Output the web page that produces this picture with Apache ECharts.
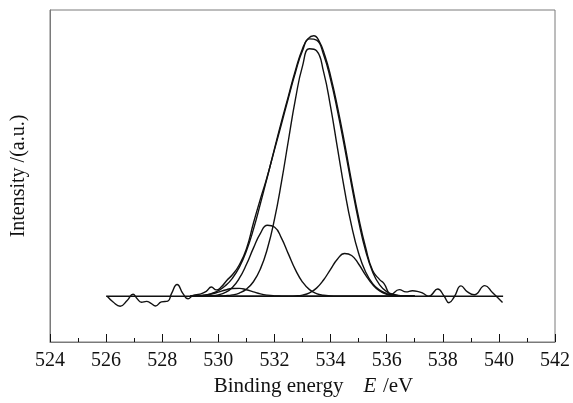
<!DOCTYPE html>
<html>
<head>
<meta charset="utf-8">
<script src="https://cdn.jsdelivr.net/npm/echarts@6/dist/echarts.min.js"></script>
<style>
  html, body { margin: 0; padding: 0; background: #fff; }
  #chart { width: 573px; height: 403px; }
</style>
</head>
<body>
<div id="chart"></div>
<script>
// O 1s region: measured spectrum, flat background and fitted peaks
const xTicks = [524, 526, 528, 530, 532, 534, 536, 538, 540, 542];

// measured spectrum (binding energy, intensity)
const rawE = [526.04, 526.25, 526.5, 526.75, 526.96, 527.1, 527.26, 527.44, 527.6, 527.76,
  527.97, 528.2, 528.33, 528.53, 528.74, 528.92, 529.1, 529.34, 529.57, 529.75,
  529.93, 530.1, 530.3, 530.5, 530.75, 531.0, 531.25, 531.5, 531.75, 532.0,
  532.25, 532.5, 532.75, 533.0, 533.2, 533.4, 533.6, 533.8, 534.0, 534.25,
  534.5, 534.75, 535.0, 535.25, 535.5, 535.75, 535.9, 536.16, 536.45, 536.69,
  536.92, 537.16, 537.3, 537.5, 537.58, 537.82, 538.05, 538.22, 538.41, 538.65,
  538.88, 539.12, 539.5, 539.77, 540.13];
const rawI = [0, -2.0, -3.5, -1.5, 0.7, -0.8, -2.1, -1.8, -2.5, -3.4,
  -2.0, -1.7, 0.9, 4.1, 0.9, -0.9, 0.3, 0.7, 1.7, 3.2,
  2.2, 3.2, 5.5, 7.5, 11.0, 16.5, 25.5, 34.0, 42.0, 51.5,
  61.0, 70.0, 79.0, 86.5, 90.0, 91.0, 89.0, 84.0, 77.0, 66.0,
  53.5, 40.0, 27.5, 17.0, 9.0, 5.8, 4.5, 0.7, 2.3, 1.5,
  1.9, 1.5, 1.0, 0.0, 0.3, 2.5, 0, -2.3, -0.2, 3.6,
  1.5, 0.5, 3.7, 1.3, -2.2];

// background line
const bgE = [526.0, 540.15];
const bgI = [0, 0];

// fitted components on a common energy grid
const fitE = [529.0, 529.25, 529.5, 529.75, 530.0, 530.25, 530.5, 530.75, 531.0, 531.25,
  531.5, 531.75, 532.0, 532.25, 532.5, 532.75, 533.0, 533.25, 533.5, 533.75,
  534.0, 534.25, 534.5, 534.75, 535.0, 535.25, 535.5, 535.75, 536.0, 536.25,
  536.5, 536.75, 537.0];
const peakMain = [0, 0, 0.01, 0.02, 0.06, 0.18, 0.46, 1.11, 2.46, 5.05,
  9.55, 16.66, 26.82, 39.84, 54.58, 68.96, 80.39, 86.44, 85.75, 78.47,
  66.23, 51.57, 37.04, 24.54, 15.0, 8.46, 4.4, 2.11, 0.93, 0.38,
  0.14, 0.05, 0.02];
const peakLow = [0, 0.01, 0.04, 0.15, 0.48, 1.3, 3.08, 6.29, 11.06, 16.79,
  21.97, 24.81, 24.16, 20.29, 14.7, 9.18, 4.95, 2.3, 0.92, 0.32,
  0.1, 0.02, 0.01, 0, 0, 0, 0, 0, 0, 0,
  0, 0, 0];
const peakHigh = [0, 0, 0, 0, 0, 0, 0, 0, 0, 0,
  0, 0, 0, 0.01, 0.03, 0.12, 0.4, 1.17, 2.82, 5.66,
  9.41, 13.0, 14.92, 14.22, 11.25, 7.39, 4.04, 1.83, 0.69, 0.22,
  0.06, 0.01, 0];
const peakSmall = [0.03, 0.11, 0.33, 0.76, 1.42, 2.18, 2.71, 2.74, 2.26, 1.51,
  0.82, 0.37, 0.13, 0.04, 0.01, 0, 0, 0, 0, 0,
  0, 0, 0, 0, 0, 0, 0, 0, 0, 0,
  0, 0, 0];
const envelope = [0.03, 0.12, 0.38, 0.93, 1.96, 3.66, 6.25, 10.14, 15.78, 23.35,
  32.34, 41.84, 51.11, 60.18, 69.32, 78.26, 85.74, 89.91, 89.49, 84.45,
  75.74, 64.59, 51.97, 38.76, 26.25, 15.85, 8.44, 3.94, 1.62, 0.6,
  0.2, 0.06, 0.02];

const pairs = (xs, ys) => xs.map((x, i) => [x, ys[i]]);

const serif = '"Liberation Serif", "DejaVu Serif", serif';
const ink = '#111';
const frame = '#7a7a7a';

const curve = (name, data, smooth) => ({
  name, type: 'line', data, smooth, symbol: 'none',
  lineStyle: { color: ink, width: 1.4 }, z: 3, animation: false
});

const chart = echarts.init(document.getElementById('chart'));
chart.setOption({
  backgroundColor: '#fff',
  animation: false,
  grid: { left: 50, right: 17, top: 10, bottom: 61, show: true, borderColor: frame, borderWidth: 1 },
  xAxis: {
    type: 'value', min: xTicks[0], max: xTicks[xTicks.length - 1], interval: 2,
    axisLine: { show: true, onZero: false, lineStyle: { color: frame, width: 1 } },
    axisTick: { show: true, inside: true, length: 8, lineStyle: { color: ink, width: 1 } },
    minorTick: { show: true, splitNumber: 2, length: 4, lineStyle: { color: ink, width: 1 } },
    splitLine: { show: false },
    axisLabel: { color: ink, fontFamily: serif, fontSize: 20, margin: 9 },
    name: '{n|Binding energy}      {e|E}  {n|/eV}',
    nameLocation: 'middle', nameGap: 34,
    nameTextStyle: {
      padding: [0, 0, 0, 22],
      rich: {
        n: { fontFamily: serif, fontSize: 21, color: ink },
        e: { fontFamily: serif, fontSize: 21, color: ink, fontStyle: 'italic' }
      }
    }
  },
  yAxis: {
    type: 'value', min: -16, max: 100,
    axisLine: { show: true, onZero: false, lineStyle: { color: frame, width: 1 } },
    axisTick: { show: false },
    axisLabel: { show: false },
    splitLine: { show: false },
    name: 'Intensity /(a.u.)', nameLocation: 'middle', nameGap: 21,
    nameTextStyle: { fontFamily: serif, fontSize: 20, color: ink }
  },
  series: [
    curve('background', pairs(bgE, bgI), false),
    curve('measured', pairs(rawE, rawI), true),
    curve('envelope', pairs(fitE, envelope), true),
    curve('peak 533.4', pairs(fitE, peakMain), true),
    curve('peak 531.8', pairs(fitE, peakLow), true),
    curve('peak 534.6', pairs(fitE, peakHigh), true),
    curve('peak 530.6', pairs(fitE, peakSmall), true)
  ]
});
</script>
</body>
</html>
